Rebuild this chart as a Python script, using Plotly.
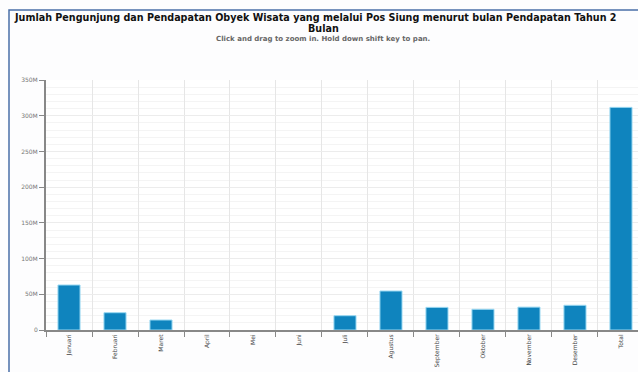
import plotly.graph_objects as go

bulan = ["Januari", "Februari", "Maret", "April", "Mei", "Juni", "Juli",
         "Agustus", "September", "Oktober", "November", "Desember", "Total"]
pendapatan = [63.0e6, 24.2e6, 14.0e6, 0, 0, 0, 20.0e6,
              54.6e6, 31.7e6, 29.0e6, 32.0e6, 34.6e6, 311.7e6]
y_ticks = [0, 50e6, 100e6, 150e6, 200e6, 250e6, 300e6, 350e6]
y_tick_labels = ["0", "50M", "100M", "150M", "200M", "250M", "300M", "350M"]

title_line1 = "Jumlah Pengunjung dan Pendapatan Obyek Wisata yang melalui Pos Siung menurut bulan Pendapatan Tahun 2"
title_line2 = "Bulan"
subtitle = "Click and drag to zoom in. Hold down shift key to pan."

W, H = 638, 372
L, T, B = 46, 80, 42
PW = W - L
PH = H - T - B


def px_x(px):
    return (px - L) / PW


def px_y(py):
    return (H - B - py) / PH


fig = go.Figure()
fig.add_trace(go.Bar(
    x=bulan, y=pendapatan,
    marker=dict(color="#0f84be",
                line=dict(color="#9ad8f2", width=[1 if v > 0 else 0 for v in pendapatan])),
    width=0.48,
))

fig.update_layout(
    width=W, height=H,
    margin=dict(l=L, r=0, t=T, b=B),
    paper_bgcolor="#fdfdfe",
    plot_bgcolor="#ffffff",
    showlegend=False,
    font=dict(family="DejaVu Sans", size=6, color="#666666"),
    xaxis=dict(
        type="category",
        range=[-0.5, 12.37],
        tickson="boundaries",
        ticks="outside", ticklen=5, tickcolor="#888888", tickwidth=1,
        showgrid=True, gridcolor="#e6e6e6", gridwidth=1,
        showline=True, linecolor="#888888", linewidth=2,
        tickangle=-90,
        tickfont=dict(size=6, color="#444444"),
        zeroline=False,
    ),
    yaxis=dict(
        range=[0, 350e6],
        tickvals=y_ticks, ticktext=y_tick_labels,
        ticks="outside", ticklen=5, tickcolor="#888888", tickwidth=1,
        showgrid=True, gridcolor="#ececec", gridwidth=1,
        minor=dict(dtick=10e6, showgrid=True, gridcolor="#f4f4f4", gridwidth=1),
        showline=True, linecolor="#888888", linewidth=2,
        tickfont=dict(size=6, color="#777777"),
        zeroline=False,
    ),
)

fig.add_shape(type="rect", xref="paper", yref="paper",
              x0=px_x(9), x1=px_x(720), y0=px_y(420), y1=px_y(10),
              line=dict(color="#4a6fa8", width=1.5), layer="above")

fig.add_annotation(text="<b>" + title_line1 + "</b>", xref="paper", yref="paper",
                   x=px_x(12), y=px_y(17), xanchor="left", yanchor="middle",
                   showarrow=False, font=dict(family="DejaVu Sans", size=9.6, color="#111111"))
fig.add_annotation(text="<b>" + title_line2 + "</b>", xref="paper", yref="paper",
                   x=px_x(323), y=px_y(28), xanchor="center", yanchor="middle",
                   showarrow=False, font=dict(family="DejaVu Sans", size=9.6, color="#111111"))
fig.add_annotation(text="<b>" + subtitle + "</b>", xref="paper", yref="paper",
                   x=px_x(323), y=px_y(39), xanchor="center", yanchor="middle",
                   showarrow=False, font=dict(family="DejaVu Sans", size=7, color="#666666"))

fig.write_html("out.html")
